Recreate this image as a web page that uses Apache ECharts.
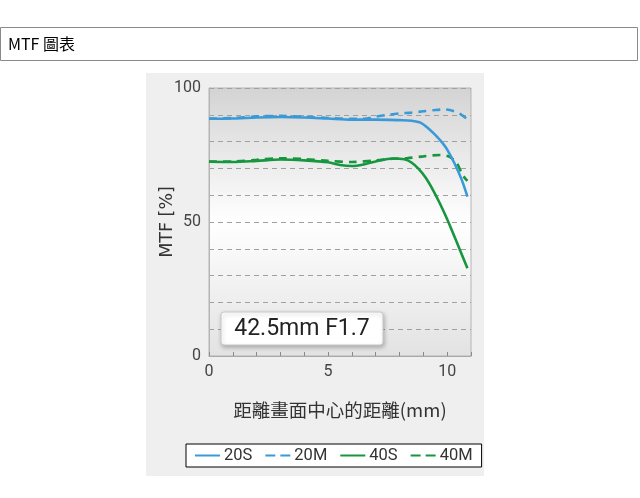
<!DOCTYPE html>
<html>
<head>
<meta charset="utf-8">
<script src="https://cdn.jsdelivr.net/npm/echarts@6/dist/echarts.min.js"></script>
<style>
  html, body { margin: 0; padding: 0; background: #fff; }
  #chart { width: 640px; height: 498px; }
</style>
</head>
<body>
<div id="chart"></div>
<script>
// 數據：距離畫面中心 (mm) 與 MTF (%)
const x20S = [0, 1, 2, 3, 4, 5, 6, 7, 8, 8.5, 8.9, 9.2, 9.5, 9.8, 10, 10.3, 10.6, 10.85];
const y20S = [88.5, 88.6, 89, 89.2, 89, 88.6, 88.2, 88.2, 88, 87.8, 87, 85, 82.5, 79.5, 77, 72, 66, 59.5];

const x20M = [0, 1, 2, 3, 4, 5, 6, 6.5, 7, 7.5, 8, 8.5, 9, 9.5, 9.9, 10.3, 10.6, 10.85];
const y20M = [88.6, 88.8, 89.4, 89.6, 89.3, 88.8, 88.5, 88.5, 89.3, 90, 90.5, 90.8, 91.3, 91.8, 92, 91.3, 90, 88.3];

const x40S = [0, 1, 2, 3, 4, 5, 5.5, 6, 6.5, 7, 7.7, 8.2, 8.5, 8.8, 9.1, 9.4, 9.7, 10, 10.4, 10.85];
const y40S = [72.5, 72.4, 72.8, 73.3, 73, 72.3, 71.3, 70.9, 71.5, 72.6, 73.7, 73.4, 72.2, 69.8, 66.5, 62, 56.8, 51, 42.5, 32.7];

const x40M = [0, 1, 2, 3, 4, 5, 6, 7, 7.7, 8.3, 9, 9.7, 10.1, 10.4, 10.65, 10.85];
const y40M = [72.6, 72.6, 73.2, 73.8, 73.5, 72.8, 72.4, 73, 73.6, 73.8, 74.5, 75, 74.3, 72, 67.5, 65.3];

const xLabels = [0, 5, 10];
const yLabels = [0, 50, 100];

const BLUE = "#3a9ad8";
const GREEN = "#16963e";

// 圖例用的線段圖示
const ICON_SOLID = "path://M0,0H25V2H0Z";
const ICON_DASH = "path://M0,0H10V2H0Z M15,0H25V2H15Z";

function pairs(xs, ys) {
  return xs.map((x, i) => [x, ys[i]]);
}

function lineSeries(name, xs, ys, color, dashed) {
  return {
    name: name,
    type: "line",
    data: pairs(xs, ys),
    smooth: 0.3,
    symbol: "none",
    lineStyle: {
      color: color,
      width: 2.6,
      type: dashed ? [8, 6] : "solid",
    },
    itemStyle: { color: color },
    z: dashed ? 3 : 4,
  };
}

const myChart = echarts.init(document.getElementById("chart"));
const option = {
  animation: false,
  backgroundColor: "#fff",
  graphic: [
    // 頁首
    {
      type: "rect",
      shape: { x: 0.5, y: 27.5, width: 637, height: 33 },
      style: { fill: "#fff", stroke: "#8a8a8a", lineWidth: 1 },
      z: 0,
    },
    {
      type: "text",
      x: 8,
      y: 44,
      style: {
        text: "MTF 圖表",
        font: '16px "Noto Sans CJK TC"',
        fill: "#000",
        verticalAlign: "middle",
      },
    },
    // 灰色底
    {
      type: "rect",
      shape: { x: 146, y: 73, width: 338, height: 403 },
      style: { fill: "#efefef" },
      z: -10,
    },
    // 鏡頭標籤
    {
      type: "rect",
      shape: { x: 221, y: 312, width: 162, height: 33, r: 3 },
      style: {
        fill: "#fff",
        stroke: "#c8c8c8",
        lineWidth: 1,
        shadowBlur: 4,
        shadowOffsetX: 1,
        shadowOffsetY: 2,
        shadowColor: "rgba(0,0,0,0.25)",
      },
      z: 10,
    },
    {
      type: "text",
      x: 302,
      y: 329,
      style: {
        text: "42.5mm F1.7",
        font: '23px "Roboto"',
        fill: "#222",
        align: "center",
        verticalAlign: "middle",
      },
      z: 11,
    },
  ],
  grid: {
    left: 209,
    top: 88,
    width: 262,
    height: 268,
    show: true,
    borderColor: "#b5b5b5",
    borderWidth: 1,
    backgroundColor: {
      type: "linear",
      x: 0, y: 0, x2: 0, y2: 1,
      colorStops: [
        { offset: 0, color: "#d3d3d3" },
        { offset: 0.5, color: "#ffffff" },
        { offset: 1, color: "#e2e2e2" },
      ],
    },
  },
  legend: {
    data: [
      { name: "20S", icon: ICON_SOLID },
      { name: "20M", icon: ICON_DASH },
      { name: "40S", icon: ICON_SOLID },
      { name: "40M", icon: ICON_DASH },
    ],
    left: 186,
    top: 444,
    padding: [3, 9, 3, 9],
    itemWidth: 25,
    itemHeight: 14,
    itemGap: 13,
    backgroundColor: "#fff",
    borderColor: "#000",
    borderWidth: 1,
    borderRadius: 0,
    textStyle: {
      fontFamily: "Roboto",
      fontSize: 16.5,
      color: "#333",
      padding: [0, 0, 0, -1],
    },
  },
  xAxis: {
    type: "value",
    min: 0,
    max: 11,
    interval: 1,
    name: "距離畫面中心的距離(mm)",
    nameLocation: "middle",
    nameGap: 45,
    nameMoveOverlap: false,
    nameTextStyle: {
      fontFamily: '"Noto Sans CJK TC"',
      fontSize: 18.5,
      color: "#333",
    },
    axisLine: { show: true, lineStyle: { color: "#a8a8a8" } },
    axisTick: { show: true, inside: true, length: 4, lineStyle: { color: "#8a8a8a" } },
    axisLabel: {
      margin: 8,
      fontFamily: "Roboto",
      fontSize: 16,
      color: "#444",
      formatter: (v) => (xLabels.includes(v) ? String(v) : ""),
    },
    splitLine: { show: false },
  },
  yAxis: {
    type: "value",
    min: 0,
    max: 100,
    interval: 10,
    name: "MTF [%]",
    nameLocation: "middle",
    nameGap: 33,
    nameMoveOverlap: false,
    nameRotate: 90,
    nameTextStyle: {
      fontFamily: '"DejaVu Sans"',
      fontSize: 17.5,
      color: "#333",
    },
    axisLine: { show: true, lineStyle: { color: "#b5b5b5" } },
    axisTick: { show: false },
    axisLabel: {
      margin: 8,
      fontFamily: "Roboto",
      fontSize: 16,
      color: "#444",
      formatter: (v) => (yLabels.includes(v) ? String(v) : ""),
    },
    splitLine: {
      show: true,
      lineStyle: { color: "#a0a0a0", type: [5, 4], width: 1 },
    },
  },
  series: [
    lineSeries("20S", x20S, y20S, BLUE, false),
    lineSeries("20M", x20M, y20M, BLUE, true),
    lineSeries("40S", x40S, y40S, GREEN, false),
    lineSeries("40M", x40M, y40M, GREEN, true),
  ],
};
myChart.setOption(option);
</script>
</body>
</html>
